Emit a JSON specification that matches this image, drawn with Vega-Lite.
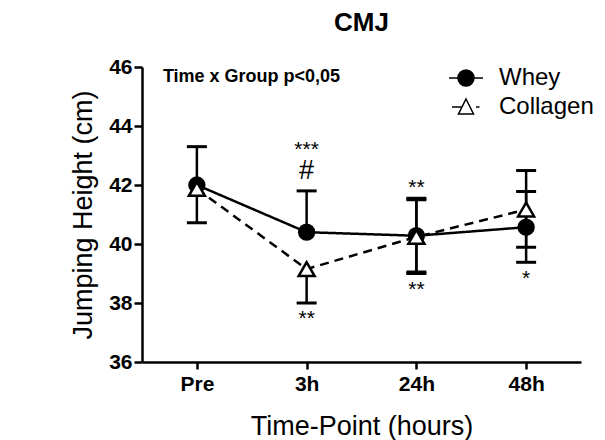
{
  "$schema": "https://vega.github.io/schema/vega-lite/v6.json",
  "width": 439,
  "height": 295,
  "autosize": "none",
  "padding": {"left": 142, "top": 67, "right": 24, "bottom": 78},
  "config": {
    "view": {"stroke": null},
    "font": "Liberation Sans",
    "axis": {"domainColor": "black", "tickColor": "black", "labelColor": "black", "titleColor": "black", "grid": false}
  },
  "title": {"text": "CMJ", "fontSize": 26, "fontWeight": "bold", "color": "black", "anchor": "middle", "offset": 20},
  "datasets": {
    "cmj": [
      {"time": "Pre", "group": "Whey", "mean": 42.0, "hi": 43.3, "lo": null},
      {"time": "Pre", "group": "Collagen", "mean": 41.87, "hi": null, "lo": 40.72},
      {"time": "3h", "group": "Whey", "mean": 40.4, "hi": 41.8, "lo": null},
      {"time": "3h", "group": "Collagen", "mean": 39.15, "hi": null, "lo": 38.0},
      {"time": "24h", "group": "Whey", "mean": 40.28, "hi": 41.55, "lo": 39.05},
      {"time": "24h", "group": "Collagen", "mean": 40.24, "hi": 41.5, "lo": 39.0},
      {"time": "48h", "group": "Whey", "mean": 40.57, "hi": 41.78, "lo": 39.38},
      {"time": "48h", "group": "Collagen", "mean": 41.17, "hi": 42.49, "lo": 39.89}
    ],
    "stars": [
      {"time": "3h", "y": 42.98, "label": "***"},
      {"time": "3h", "y": 37.25, "label": "**"},
      {"time": "24h", "y": 41.69, "label": "**"},
      {"time": "24h", "y": 38.24, "label": "**"},
      {"time": "48h", "y": 38.61, "label": "*"}
    ],
    "hash": [
      {"time": "3h", "y": 42.2, "label": "#"}
    ],
    "note": [
      {"time": "Pre", "y": 45.49, "label": "Time x Group p<0,05"}
    ]
  },
  "encoding": {
    "x": {
      "field": "time", "type": "nominal", "sort": ["Pre", "3h", "24h", "48h"],
      "scale": {"type": "point", "domain": ["Pre", "3h", "24h", "48h"], "padding": 0.5},
      "axis": {
        "title": "Time-Point (hours)", "titleFontSize": 27, "titleFontWeight": "normal", "titlePadding": 19,
        "labelAngle": 0, "labelFontSize": 21, "labelFontWeight": "bold", "labelPadding": 4,
        "domainWidth": 2.5, "tickWidth": 2.5, "tickSize": 7
      }
    }
  },
  "layer": [
    {
      "data": {"name": "cmj"},
      "mark": {"type": "rule", "color": "black", "strokeWidth": 2.5},
      "encoding": {
        "y": {"field": "hi", "type": "quantitative", "scale": {"domain": [36, 46], "nice": false, "zero": false},
          "axis": {"title": "Jumping Height (cm)", "titleFontSize": 27, "titleFontWeight": "normal", "titlePadding": 11,
            "values": [36, 38, 40, 42, 44, 46], "labelFontSize": 21, "labelFontWeight": "bold", "labelPadding": 2,
            "domainWidth": 2.5, "tickWidth": 2.5, "tickSize": 8}},
        "y2": {"field": "mean"}
      }
    },
    {
      "data": {"name": "cmj"},
      "mark": {"type": "rule", "color": "black", "strokeWidth": 2.5},
      "encoding": {
        "y": {"field": "lo", "type": "quantitative"},
        "y2": {"field": "mean"}
      }
    },
    {
      "data": {"name": "cmj"},
      "mark": {"type": "tick", "color": "black", "size": 20, "thickness": 3, "orient": "horizontal", "opacity": 1},
      "encoding": {"y": {"field": "hi", "type": "quantitative"}}
    },
    {
      "data": {"name": "cmj"},
      "mark": {"type": "tick", "color": "black", "size": 20, "thickness": 3, "orient": "horizontal", "opacity": 1},
      "encoding": {"y": {"field": "lo", "type": "quantitative"}}
    },
    {
      "data": {"name": "cmj"},
      "mark": {"type": "line", "color": "black", "strokeWidth": 2.5},
      "encoding": {
        "y": {"field": "mean", "type": "quantitative"},
        "detail": {"field": "group"},
        "strokeDash": {"field": "group", "type": "nominal", "scale": {"range": [[9, 6], [1, 0]]}, "legend": null}
      }
    },
    {
      "data": {"name": "cmj"},
      "transform": [{"filter": "datum.group === 'Whey'"}],
      "mark": {"type": "point", "shape": "circle", "filled": true, "fill": "black", "size": 300, "opacity": 1},
      "encoding": {"y": {"field": "mean", "type": "quantitative"}}
    },
    {
      "data": {"name": "cmj"},
      "transform": [{"filter": "datum.group === 'Collagen'"}],
      "mark": {"type": "point", "shape": "triangle-up", "filled": false, "fill": "white", "stroke": "black", "strokeWidth": 2.5, "size": 256, "opacity": 1},
      "encoding": {"y": {"field": "mean", "type": "quantitative"}}
    },
    {
      "data": {"name": "cmj"},
      "mark": {"type": "point", "size": 400, "opacity": 0, "filled": true, "stroke": "black", "strokeWidth": 2.5},
      "encoding": {
        "y": {"field": "mean", "type": "quantitative"},
        "fill": {
          "field": "group", "type": "nominal",
          "scale": {"domain": ["Whey", "Collagen"], "range": ["black", "white"]},
          "legend": {
            "title": null, "orient": "none", "legendX": 312, "legendY": -1, "padding": 0,
            "labelFontSize": 24, "labelColor": "black", "labelOffset": 21, "rowPadding": 5,
            "symbolSize": 400, "symbolOpacity": 1,
            "encode": {"symbols": {"update": {
              "opacity": {"value": 1},
              "fillOpacity": {"value": 1},
              "strokeOpacity": {"value": 1},
              "stroke": {"value": "black"},
              "strokeWidth": {"value": 2.5}
            }}}
          }
        },
        "shape": {
          "field": "group", "type": "nominal",
          "scale": {"domain": ["Whey", "Collagen"], "range": [
            "M-1.7,0H1.7M0.8,0A0.8,0.8,0,1,1,-0.8,0A0.8,0.8,0,1,1,0.8,0Z",
            "M-1.4,0H-0.4M1.0,0H1.35M0,-0.8L0.75,0.7L-0.75,0.7Z"
          ]},
          "legend": {
            "title": null, "orient": "none", "legendX": 312, "legendY": -1, "padding": 0,
            "labelFontSize": 24, "labelColor": "black", "labelOffset": 21, "rowPadding": 5,
            "symbolSize": 400, "symbolOpacity": 1,
            "encode": {"symbols": {"update": {
              "opacity": {"value": 1},
              "fillOpacity": {"value": 1},
              "strokeOpacity": {"value": 1},
              "stroke": {"value": "black"},
              "strokeWidth": {"value": 2.5}
            }}}
          }
        }
      }
    },
    {
      "data": {"name": "stars"},
      "mark": {"type": "text", "fontSize": 21, "color": "black", "baseline": "alphabetic", "align": "center"},
      "encoding": {"y": {"field": "y", "type": "quantitative"}, "text": {"field": "label"}}
    },
    {
      "data": {"name": "hash"},
      "mark": {"type": "text", "fontSize": 27, "color": "black", "baseline": "alphabetic", "align": "center"},
      "encoding": {"y": {"field": "y", "type": "quantitative"}, "text": {"field": "label"}}
    },
    {
      "data": {"name": "note"},
      "mark": {"type": "text", "fontSize": 18, "fontWeight": "bold", "color": "black", "baseline": "alphabetic", "align": "left", "dx": -34},
      "encoding": {"y": {"field": "y", "type": "quantitative"}, "text": {"field": "label"}}
    }
  ]
}
